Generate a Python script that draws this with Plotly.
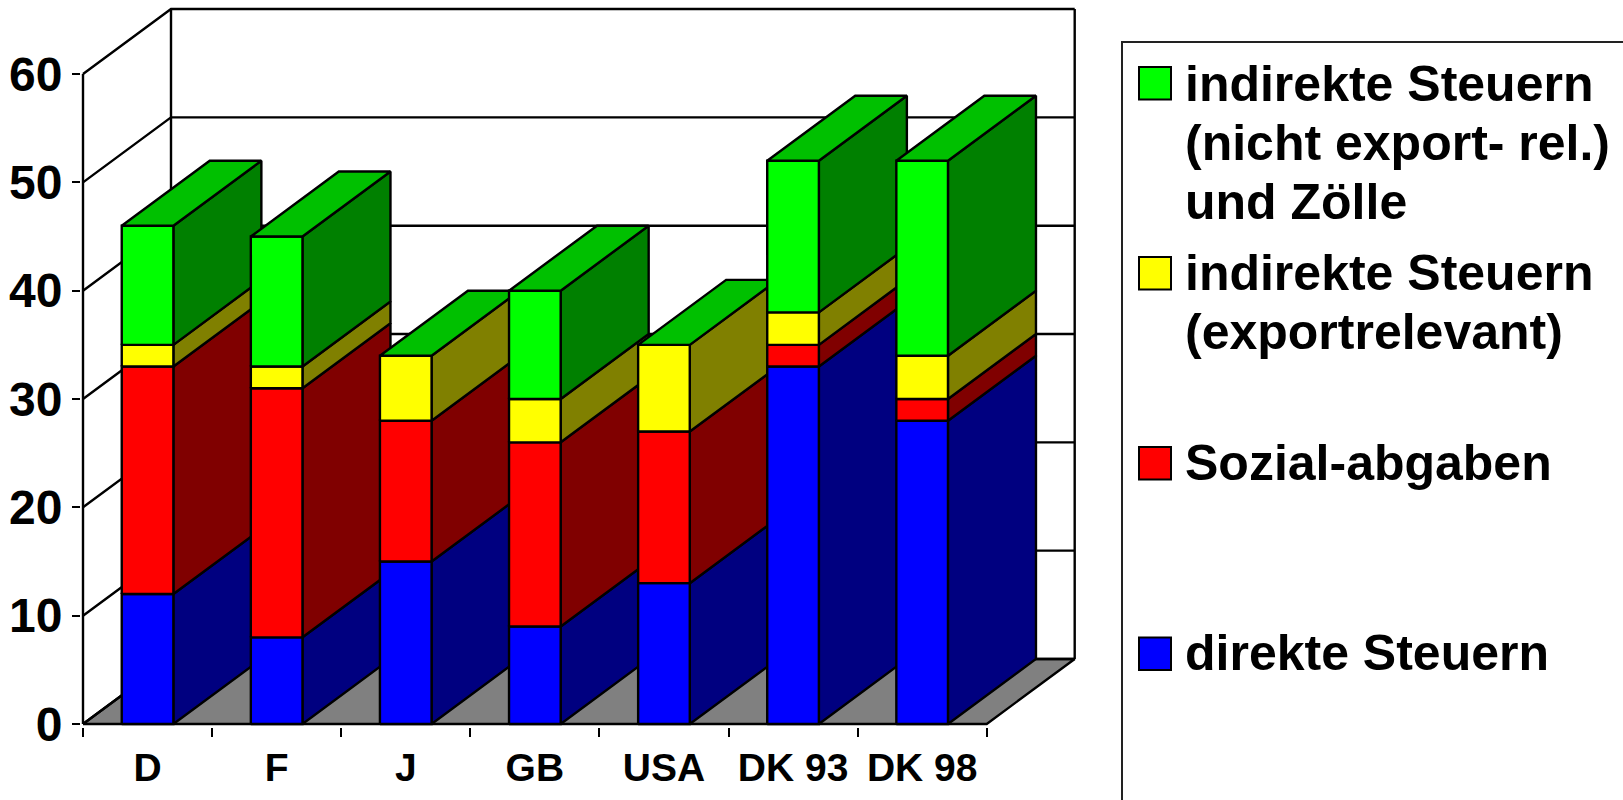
import plotly.graph_objects as go

W, H = 1623, 800

# ---- data ----
categories = ["D", "F", "J", "GB", "USA", "DK 93", "DK 98"]
direkte = [12, 8, 15, 9, 13, 33, 28]
sozial = [21, 23, 13, 17, 14, 2, 2]
export_rel = [2, 2, 6, 4, 8, 3, 4]
nicht_export = [11, 12, 0, 10, 0, 14, 18]
y_ticks = [0, 10, 20, 30, 40, 50, 60]

legend_lines = [
    ["indirekte Steuern", "(nicht export- rel.)", "und Zölle"],
    ["indirekte Steuern", "(exportrelevant)"],
    ["Sozial-abgaben"],
    ["direkte Steuern"],
]

# ---- styles ----
FONT = "Liberation Sans, Arial, sans-serif"
series = [
    (direkte, "#0000FF", "#000080"),
    (sozial, "#FF0000", "#800000"),
    (export_rel, "#FFFF00", "#808000"),
    (nicht_export, "#00FF00", "#008000"),
]
TOP_COLOR = "#00C000"
FLOOR_COLOR = "#808080"
legend_colors = ["#00FF00", "#FFFF00", "#FF0000", "#0000FF"]

# ---- oblique projection: depth expressed in axis units ----
CAT_PX = 129.1
UNIT_PX = 10.833
DX = 88 / CAT_PX
DY = 65 / UNIT_PX
BAR_HALF = 0.2
X0, X1 = -0.5, len(categories) - 0.5
Y_MAX = y_ticks[-1]
LINE_W = 2.4

fig = go.Figure()


def poly(xs, ys, fill=None, width=LINE_W):
    closed = fill is not None
    fig.add_trace(go.Scatter(
        x=list(xs) + ([xs[0]] if closed else []),
        y=list(ys) + ([ys[0]] if closed else []),
        mode="lines",
        line=dict(color="black", width=width, shape="linear"),
        fill="toself" if closed else None,
        fillcolor=fill,
        hoverinfo="skip",
        showlegend=False,
    ))


# floor
poly([X0, X1, X1 + DX, X0 + DX], [0, 0, DY, DY], FLOOR_COLOR)
# walls and gridlines
for t in y_ticks:
    poly([X0, X0 + DX, X1 + DX], [t, t + DY, t + DY])
poly([X0, X0], [0, Y_MAX])
poly([X0 + DX, X0 + DX], [DY, Y_MAX + DY])
poly([X1 + DX, X1 + DX], [DY, Y_MAX + DY])

# bars, left to right, bottom to top
for i in range(len(categories)):
    x_a, x_b = i - BAR_HALF, i + BAR_HALF
    base = 0
    for values, face, side in series:
        v = values[i]
        if v == 0:
            continue
        top = base + v
        poly([x_b, x_b + DX, x_b + DX, x_b], [base, base + DY, top + DY, top], side)
        poly([x_a, x_b, x_b, x_a], [base, base, top, top], face)
        base = top
    poly([x_a, x_b, x_b + DX, x_a + DX], [base, base, base + DY, base + DY], TOP_COLOR)


def px(x):
    return x / W


def py(y):
    return 1 - y / H


# legend box and swatches
shapes = [dict(type="rect", xref="paper", yref="paper",
               x0=px(1122), x1=px(W + 10), y0=py(42), y1=py(H + 10),
               line=dict(color="#222222", width=2), fillcolor="white", layer="below")]
swatch_tops = [67, 257, 447, 637.5]
first_baselines = [101.7, 291, 480.7, 670.7]
LEGEND_LINE = 59
LEGEND_SIZE = 50
annotations = []
for lines, color, s_top, base in zip(legend_lines, legend_colors, swatch_tops, first_baselines):
    shapes.append(dict(type="rect", xref="paper", yref="paper",
                       x0=px(1139), x1=px(1171), y0=py(s_top), y1=py(s_top + 32.5),
                       line=dict(color="black", width=2), fillcolor=color))
    for k, line in enumerate(lines):
        annotations.append(dict(
            xref="paper", yref="paper", x=px(1184), y=py(base + k * LEGEND_LINE + 11),
            xanchor="left", yanchor="bottom", showarrow=False, align="left",
            borderpad=0, text=f"<b>{line}</b>",
            font=dict(family=FONT, size=LEGEND_SIZE, color="black"),
        ))

# plot area in pixels: axis origin at (83, 724)
ORIGIN_Y = 724
LEFT, RIGHT, BOTTOM, TOP = 81, 1078, 726.5, 5
x_range = [X0 - (83 - LEFT) / CAT_PX, X0 + (RIGHT - 83) / CAT_PX]
y_range = [-(BOTTOM - ORIGIN_Y) / UNIT_PX, (ORIGIN_Y - TOP) / UNIT_PX]

fig.update_layout(
    width=W, height=H, autosize=False,
    margin=dict(l=0, r=0, t=0, b=0),
    paper_bgcolor="white", plot_bgcolor="white",
    showlegend=False,
    shapes=shapes, annotations=annotations,
    xaxis=dict(
        domain=[px(LEFT), px(RIGHT)], range=x_range, showgrid=False, zeroline=False,
        showline=False, automargin=False, tickmode="array",
        tickvals=list(range(len(categories))),
        ticktext=[f"<b>{c}</b>" for c in categories],
        ticks="", ticklabelstandoff=14,
        tickfont=dict(family=FONT, size=39, color="black"),
        minor=dict(tickmode="array",
                   tickvals=[i - 0.5 for i in range(len(categories) + 1)],
                   ticks="outside", ticklen=9, tickwidth=2, tickcolor="black", showgrid=False),
    ),
    yaxis=dict(
        domain=[1 - BOTTOM / H, 1 - TOP / H], range=y_range, showgrid=False, zeroline=False,
        showline=False, automargin=False, tickmode="array", tickvals=y_ticks,
        ticktext=[f"<b>{t}</b>" for t in y_ticks],
        ticks="outside", ticklen=8, tickwidth=2, tickcolor="black", ticklabelstandoff=0,
        tickfont=dict(family=FONT, size=48, color="black"),
    ),
)

fig.write_html("out.html", config=dict(displayModeBar=False),
               post_script="document.body.style.margin='0';document.body.style.overflow='hidden';")
